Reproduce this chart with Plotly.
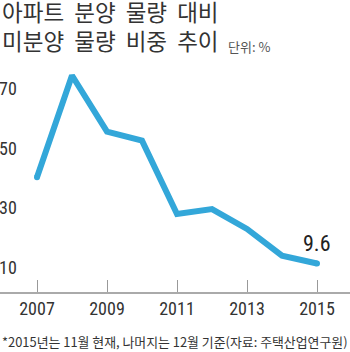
import plotly.graph_objects as go

years = [2007, 2008, 2009, 2010, 2011, 2012, 2013, 2014, 2015]
ratio = [38.6, 72.8, 53.9, 50.9, 26.2, 27.9, 21.2, 12.2, 9.6]
x_ticks = [2007, 2009, 2011, 2013, 2015]
y_ticks = [10, 30, 50, 70]
title_lines = ["아파트 분양 물량 대비", "미분양 물량 비중 추이"]
unit_text = "단위: %"
note_text = "*2015년는 11월 현재, 나머지는 12월 기준(자료: 주택산업연구원)"
last_label = "9.6"

NUM_FONT = "Liberation Sans Narrow, Roboto Condensed, Arial Narrow, Roboto, sans-serif"
KR_FONT = "Noto Sans CJK KR, Noto Sans, sans-serif"
LINE_COLOR = "#33a7d9"

PLOT_TOP, PLOT_BOTTOM = 60, 292
PLOT_H = PLOT_BOTTOM - PLOT_TOP


def py(pixel):
    return (PLOT_BOTTOM - pixel) / PLOT_H


def wide(s):
    # the reference title font sets words a little further apart
    return s.replace(" ", "\u00a0 ")


fig = go.Figure()
fig.add_trace(go.Scatter(
    x=years, y=ratio, mode="lines",
    line=dict(color=LINE_COLOR, width=6),
    hoverinfo="skip", showlegend=False,
))
# round end caps
fig.add_trace(go.Scatter(
    x=[years[0], years[-1]], y=[ratio[0], ratio[-1]], mode="markers",
    marker=dict(color=LINE_COLOR, size=6, line=dict(width=0)),
    hoverinfo="skip", showlegend=False,
))

annotations = [
    dict(text="<br>".join(wide(t) for t in title_lines), x=0, y=py(25.5),
         xref="paper", yref="paper", align="left",
         xanchor="left", yanchor="middle", showarrow=False,
         font=dict(family=KR_FONT, size=22.5, color="#333333")),
    dict(text=unit_text, x=226 / 350, y=py(46), xref="paper", yref="paper",
         xanchor="left", yanchor="middle", showarrow=False,
         font=dict(family=KR_FONT, size=13, color="#555555")),
    dict(text=note_text, x=0, y=py(341.5), xref="paper", yref="paper",
         xanchor="left", yanchor="middle", showarrow=False,
         font=dict(family=KR_FONT, size=12.9, color="#333333")),
    dict(text=last_label, x=years[-1], y=ratio[-1], xref="x", yref="y",
         xanchor="center", yanchor="middle", yshift=20, showarrow=False,
         font=dict(family=NUM_FONT, size=22, color="#222222")),
]

fig.update_layout(
    width=350, height=352,
    margin=dict(l=0, r=0, t=PLOT_TOP, b=352 - PLOT_BOTTOM),
    paper_bgcolor="white", plot_bgcolor="white",
    annotations=annotations,
    xaxis=dict(
        range=[2007 - 37 / 35, 2015 + 33 / 35],
        tickvals=x_ticks, ticktext=[str(v) for v in x_ticks],
        ticks="inside", ticklen=12, tickwidth=1, tickcolor="#999999",
        showline=True, linecolor="#aaaaaa", linewidth=1.5,
        showgrid=False, zeroline=False,
        tickfont=dict(family=NUM_FONT, size=18, color="#333333"),
    ),
    yaxis=dict(
        range=[0, 78],
        tickvals=y_ticks, ticktext=[str(v) for v in y_ticks],
        ticks="", showline=False, showgrid=False, zeroline=False,
        ticklabelposition="inside", ticklabelshift=5, ticklabelstandoff=-4,
        tickfont=dict(family=NUM_FONT, size=18, color="#333333"),
    ),
)

fig.write_html("out.html")
